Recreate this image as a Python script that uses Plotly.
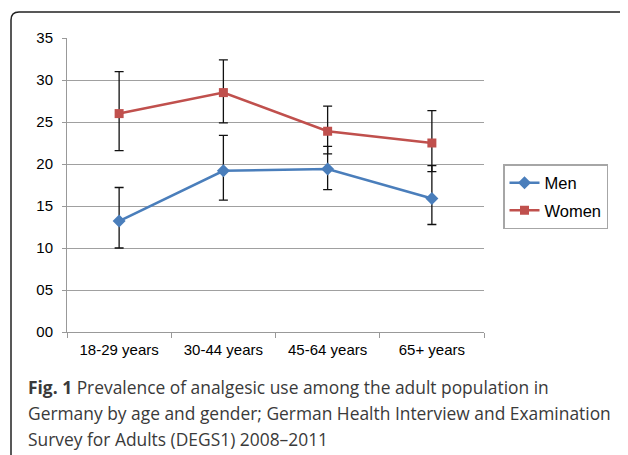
import plotly.graph_objects as go

categories = ["18-29 years", "30-44 years", "45-64 years", "65+ years"]
men = [13.2, 19.2, 19.4, 15.9]
men_upper = [17.2, 23.4, 22.1, 19.8]
men_lower = [10.0, 15.7, 16.95, 12.8]
women = [26.0, 28.5, 23.9, 22.5]
women_upper = [31.0, 32.4, 26.9, 26.35]
women_lower = [21.6, 24.9, 21.2, 19.1]
y_ticks = [0, 5, 10, 15, 20, 25, 30, 35]
caption_lines = [
    "<b>Fig. 1</b> Prevalence of analgesic use among the adult population in",
    "Germany by age and gender; German Health Interview and Examination",
    "Survey for Adults (DEGS1) 2008\u20132011",
]

OFF = 8  # page offset of the figure in the window
W, H = 628 - 2 * OFF, 455 - OFF
L, R, T, B = 67 - OFF, 628 - OFF - 484, 38 - OFF, 455 - 332
PW, PH = W - L - R, H - T - B


def px(x):
    return (x - OFF - L) / PW


def py(y):
    return 1 - (y - OFF - T) / PH


def err(vals, up, lo):
    return dict(type="data", symmetric=False,
                array=[u - v for u, v in zip(up, vals)],
                arrayminus=[v - l for v, l in zip(vals, lo)],
                color="#111111", thickness=1.3, width=4.5)


fig = go.Figure()
fig.add_trace(go.Scatter(
    x=categories, y=men, name="Men", mode="lines+markers",
    line=dict(color="#4A7EBB", width=2.6),
    marker=dict(symbol="diamond", size=10, color="#4A7EBB"),
    error_y=err(men, men_upper, men_lower), legendgroup="m"))
fig.add_trace(go.Scatter(
    x=categories, y=women, name="Women", mode="lines+markers",
    line=dict(color="#C0504D", width=2.6),
    marker=dict(symbol="square", size=9, color="#C0504D"),
    error_y=err(women, women_upper, women_lower), legendgroup="w"))

# rounded frame (right side runs off the page)
x0, y0, x1, y1, r = px(11), py(12), px(640), py(470), 8
rx, ry = r / PW, r / PH
path = (f"M {x0},{y1} L {x0},{y0 - ry} Q {x0},{y0} {x0 + rx},{y0} "
        f"L {x1 - rx},{y0} Q {x1},{y0} {x1},{y0 - ry} L {x1},{y1}")
shapes = [dict(type="path", xref="paper", yref="paper", path=path,
               line=dict(color="#222222", width=1.5))]

annotations = []
for i, line in enumerate(caption_lines):
    annotations.append(dict(
        text=line, xref="paper", yref="paper", x=px(26), y=py(387 + 26 * i),
        xanchor="left", yanchor="middle", showarrow=False,
        font=dict(family="Open Sans", size=17.4, color="#3a3a3a")))

fig.update_layout(
    width=W, height=H, margin=dict(l=L, r=R, t=T, b=B),
    paper_bgcolor="white", plot_bgcolor="white",
    font=dict(family="Liberation Sans, Arial", color="black"),
    showlegend=True,
    legend=dict(x=px(503), y=py(164), xanchor="left", yanchor="top",
                bordercolor="#A6A6A6", borderwidth=1.5, bgcolor="white",
                font=dict(size=16.5), traceorder="grouped", tracegroupgap=3,
                itemwidth=30),
    shapes=shapes, annotations=annotations,
)
fig.update_xaxes(
    type="category", range=[-0.5, 3.5], showgrid=False,
    showline=True, linecolor="#999999", linewidth=1,
    ticks="outside", tickson="boundaries", ticklen=5, tickcolor="#999999",
    tickfont=dict(size=15), ticklabelstandoff=4)
fig.update_yaxes(
    range=[0, 35], tickvals=y_ticks, tickformat="02d",
    showgrid=True, gridcolor="#A0A0A0", gridwidth=1, zeroline=False,
    showline=True, linecolor="#999999", linewidth=1,
    ticks="outside", ticklen=4, tickcolor="#999999",
    tickfont=dict(size=15), ticklabelstandoff=6)

fig.write_html("out.html")
